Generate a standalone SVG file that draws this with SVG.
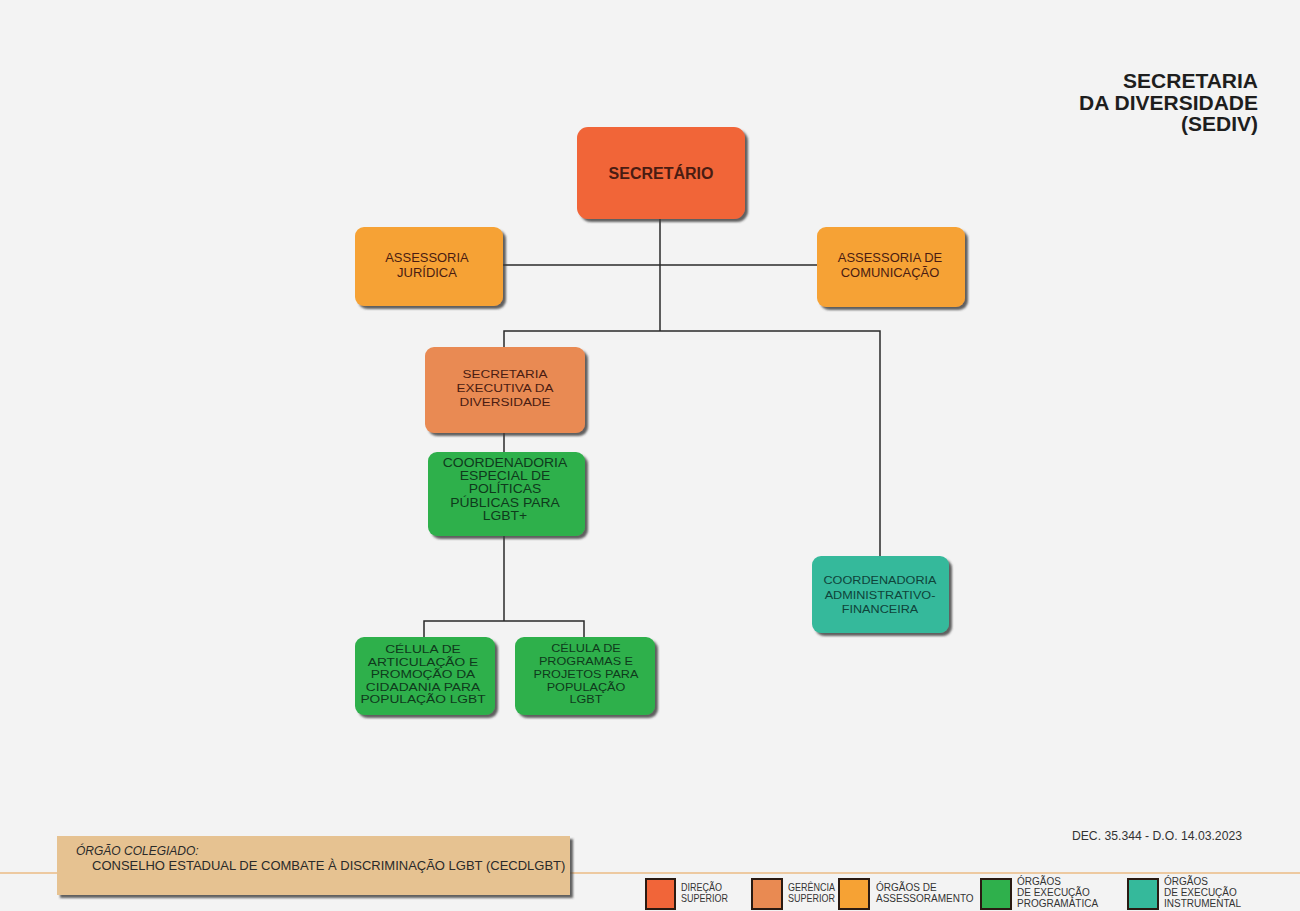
<svg xmlns="http://www.w3.org/2000/svg" width="1300" height="911" viewBox="0 0 1300 911">
<defs>
<filter id="sh" x="-10%" y="-10%" width="130%" height="130%">
<feDropShadow dx="3" dy="3" stdDeviation="1.3" flood-color="#3a3a3a" flood-opacity="0.8"/>
</filter>
</defs>
<style>
text{font-family:"Liberation Sans",Arial,sans-serif;text-anchor:middle}
.box{filter:url(#sh)}
.dir{fill:#f16539}
.ger{fill:#e98a52}
.ass{fill:#f6a234}
.prog{fill:#2fb04c}
.inst{fill:#35b99b}
.tb{fill:#4a1c12}
.tg{fill:#0f3a1c}
.tt{fill:#0f443a}
.con{stroke:#2a2a2a;stroke-width:1.5;fill:none}
.leg{font-size:10px;text-anchor:start;fill:#333}
.lsq{stroke:#2a1a12;stroke-width:2}
</style>
<rect width="1300" height="911" fill="#f3f3f3"/>

<g id="title">
<text x="1258" y="88" style="text-anchor:end;font-size:21px;font-weight:bold" fill="#1e1e1e">SECRETARIA</text>
<text x="1258" y="110" style="text-anchor:end;font-size:21px;font-weight:bold" fill="#1e1e1e">DA DIVERSIDADE</text>
<text x="1258" y="131" style="text-anchor:end;font-size:21px;font-weight:bold" fill="#1e1e1e">(SEDIV)</text>
</g>

<g id="connectors">
<path class="con" d="M660 219 V331"/>
<path class="con" d="M503 265 H817"/>
<path class="con" d="M504 347 V331 H880 V556"/>
<path class="con" d="M504 433 V452"/>
<path class="con" d="M504 536 V621"/>
<path class="con" d="M424 637 V621 H584 V637"/>
</g>

<g id="secretario">
<rect class="box dir" x="577" y="127" width="168" height="92" rx="11"/>
<text x="661" y="179" style="font-size:16px;font-weight:bold" class="tb">SECRETÁRIO</text>
</g>

<g id="assessoria-juridica">
<rect class="box ass" x="355" y="227" width="148" height="79" rx="9"/>
<g transform="matrix(1.08 0 0 1 -34.2 0)" style="font-size:12px" class="tb">
<text x="427" y="262">ASSESSORIA</text>
<text x="427" y="277">JURÍDICA</text>
</g>
</g>

<g id="assessoria-comunicacao">
<rect class="box ass" x="817" y="227" width="148" height="80" rx="9"/>
<g transform="matrix(1.08 0 0 1 -71.2 0)" style="font-size:12px" class="tb">
<text x="890" y="262">ASSESSORIA DE</text>
<text x="890" y="277">COMUNICAÇÃO</text>
</g>
</g>

<g id="secretaria-executiva">
<rect class="box ger" x="425" y="347" width="160" height="86" rx="9"/>
<g transform="matrix(1.17 0 0 1 -85.85 0)" style="font-size:11.5px" class="tb">
<text x="505" y="378">SECRETARIA</text>
<text x="505" y="392">EXECUTIVA DA</text>
<text x="505" y="406">DIVERSIDADE</text>
</g>
</g>

<g id="coordenadoria-especial">
<rect class="box prog" x="428" y="452" width="157" height="84" rx="9"/>
<g transform="matrix(1.16 0 0 1 -80.8 0)" style="font-size:12px" class="tg">
<text x="505" y="467">COORDENADORIA</text>
<text x="505" y="480">ESPECIAL DE</text>
<text x="505" y="493">POLÍTICAS</text>
<text x="505" y="507">PÚBLICAS PARA</text>
<text x="505" y="520">LGBT+</text>
</g>
</g>

<g id="celula-articulacao">
<rect class="box prog" x="355" y="637" width="140" height="78" rx="9"/>
<g transform="matrix(1.25 0 0 1 -105.75 0)" style="font-size:11px" class="tg">
<text x="423" y="653">CÉLULA DE</text>
<text x="423" y="666">ARTICULAÇÃO E</text>
<text x="423" y="678">PROMOÇÃO DA</text>
<text x="423" y="691">CIDADANIA PARA</text>
<text x="423" y="703">POPULAÇÃO LGBT</text>
</g>
</g>

<g id="celula-programas">
<rect class="box prog" x="515" y="637" width="140" height="78" rx="9"/>
<g transform="matrix(1.15 0 0 1 -87.9 0)" style="font-size:11px" class="tg">
<text x="586" y="652">CÉLULA DE</text>
<text x="586" y="665">PROGRAMAS E</text>
<text x="586" y="678">PROJETOS PARA</text>
<text x="586" y="691">POPULAÇÃO</text>
<text x="586" y="703">LGBT</text>
</g>
</g>

<g id="coordenadoria-administrativo">
<rect class="box inst" x="812" y="556" width="137" height="77" rx="9"/>
<g transform="matrix(1.1 0 0 1 -88 0)" style="font-size:11.5px" class="tt">
<text x="880" y="584">COORDENADORIA</text>
<text x="880" y="599">ADMINISTRATIVO-</text>
<text x="880" y="613">FINANCEIRA</text>
</g>
</g>

<g id="decreto">
<text x="1242" y="840" style="text-anchor:end;font-size:12.2px" fill="#333">DEC. 35.344 - D.O. 14.03.2023</text>
</g>

<line x1="0" y1="873" x2="1300" y2="873" stroke="#edc9a0" stroke-width="2"/>

<g id="orgao-colegiado">
<rect class="box" x="57" y="836" width="513" height="59" fill="#e6c291"/>
<text x="76" y="855" style="text-anchor:start;font-size:12px;font-style:italic" fill="#2a2a2a">ÓRGÃO COLEGIADO:</text>
<text x="92" y="870" style="text-anchor:start;font-size:13px" fill="#2a2a2a">CONSELHO ESTADUAL DE COMBATE À DISCRIMINAÇÃO LGBT (CECDLGBT)</text>
</g>

<g id="legend">
<rect class="lsq" x="646" y="879" width="29" height="30" fill="#f16539"/>
<rect class="lsq" x="752" y="879" width="30" height="30" fill="#e98a52"/>
<rect class="lsq" x="839" y="879" width="30" height="30" fill="#f6a234"/>
<rect class="lsq" x="981" y="879" width="30" height="30" fill="#2fb04c"/>
<rect class="lsq" x="1128" y="879" width="30" height="30" fill="#35b99b"/>
<g transform="matrix(0.9 0 0 1 68.1 0)">
<text class="leg" x="681" y="891">DIREÇÃO</text>
<text class="leg" x="681" y="902">SUPERIOR</text>
</g>
<g transform="matrix(0.9 0 0 1 78.8 0)">
<text class="leg" x="788" y="891">GERÊNCIA</text>
<text class="leg" x="788" y="902">SUPERIOR</text>
</g>
<text class="leg" x="876" y="891">ÓRGÃOS DE</text>
<text class="leg" x="876" y="902">ASSESSORAMENTO</text>
<text class="leg" x="1017" y="885">ÓRGÃOS</text>
<text class="leg" x="1017" y="896">DE EXECUÇÃO</text>
<text class="leg" x="1017" y="907">PROGRAMÁTICA</text>
<text class="leg" x="1164" y="885">ÓRGÃOS</text>
<text class="leg" x="1164" y="896">DE EXECUÇÃO</text>
<text class="leg" x="1164" y="907">INSTRUMENTAL</text>
</g>
</svg>
